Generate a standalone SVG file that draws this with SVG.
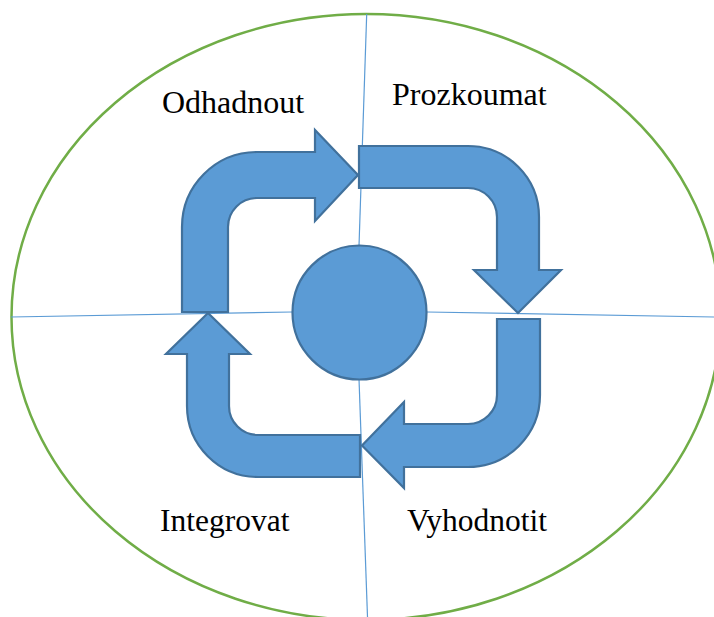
<svg xmlns="http://www.w3.org/2000/svg" width="714" height="617" viewBox="0 0 714 617">
<style>
.arr{fill:#5B9BD5;stroke:#41719C;stroke-width:2.2;stroke-linejoin:miter}
.ln{stroke:#5B9BD5;stroke-width:1.2;fill:none}
.lbl{font-family:"Liberation Serif","Times New Roman",serif;font-size:32px;fill:#000}
.lbl2{font-family:"Liberation Serif","Times New Roman",serif;font-size:31.5px;fill:#000}
</style>
<rect width="714" height="617" fill="#fff"/>
<g id="frame">
<ellipse cx="366" cy="317" rx="354.5" ry="303" fill="none" stroke="#70AD47" stroke-width="2.5"/>
</g>
<g id="connectors">
<line class="ln" x1="366.7" y1="14" x2="359" y2="246"/>
<line class="ln" x1="359" y1="379" x2="367.5" y2="617"/>
<line class="ln" x1="11" y1="317" x2="292" y2="312"/>
<line class="ln" x1="427" y1="312" x2="714" y2="317"/>
</g>
<g id="odhadnout">
<path class="arr" d="M182,312 L182,227 A75,75 0 0 1 257,152 L315,152 L315,130 L358,175 L315,221 L315,198 L257,198 A29,29 0 0 0 228,227 L228,312 Z"/>
<text class="lbl" x="162" y="113">Odhadnout</text>
</g>
<g id="prozkoumat">
<path class="arr" d="M359,146 L468,146 A71,71 0 0 1 539,217 L539,270 L561,270 L518,313 L474,270 L497,270 L497,217 A29,29 0 0 0 468,188 L359,188 Z"/>
<text class="lbl" x="392" y="105">Prozkoumat</text>
</g>
<g id="vyhodnotit">
<path class="arr" d="M497,319 L540,319 L540,395 A72,72 0 0 1 468,467 L404,467 L404,488 L362,445.5 L404,402 L404,424 L468,424 A29,29 0 0 0 497,395 Z"/>
<text class="lbl2" x="407" y="531">Vyhodnotit</text>
</g>
<g id="integrovat">
<path class="arr" d="M360,435 L360,477 L258,477 A71,71 0 0 1 187,406 L187,354 L166,354 L208,313 L250,354 L229,354 L229,406 A29,29 0 0 0 258,435 Z"/>
<text class="lbl2" x="160" y="531">Integrovat</text>
</g>
<g id="center">
<circle cx="359.5" cy="312.5" r="67" fill="#5B9BD5" stroke="#41719C" stroke-width="2.2"/>
</g>
</svg>
